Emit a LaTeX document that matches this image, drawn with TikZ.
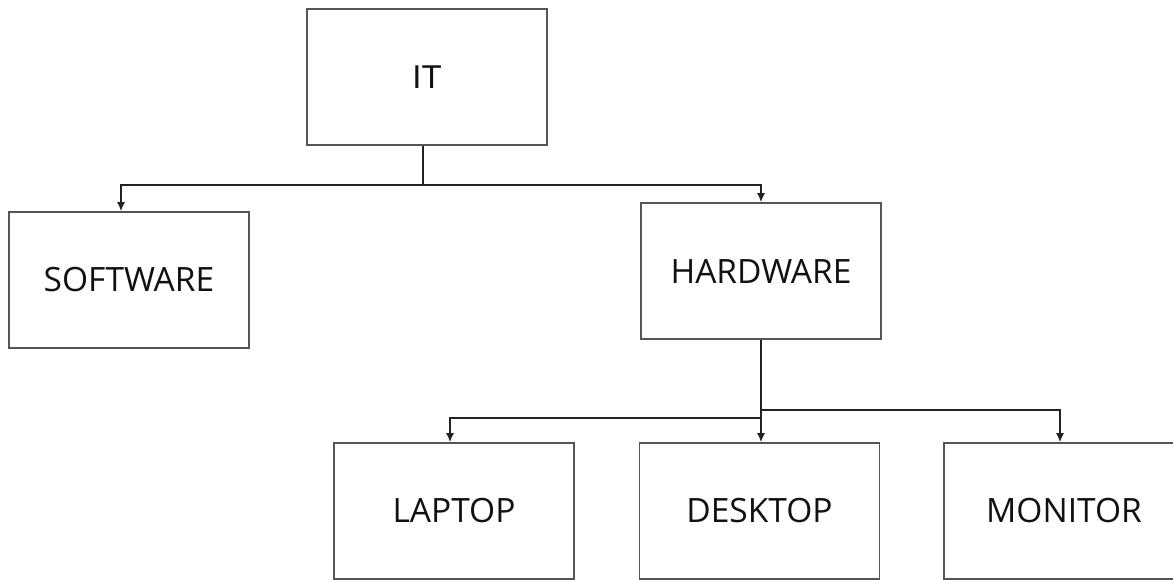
\documentclass[tikz,border=0pt]{standalone}
\usepackage{fontspec}
\setmainfont{Open Sans}
\newfontfamily\itfont{Liberation Sans}
\usetikzlibrary{arrows.meta}
\definecolor{boxgray}{HTML}{555555}
\definecolor{linegray}{HTML}{222222}
\definecolor{textgray}{HTML}{111111}
\begin{document}
\begin{tikzpicture}[x=1pt,y=-1pt,
  box/.style={draw=boxgray, line width=1.6pt, minimum width=240pt, minimum height=136pt,
    inner sep=0pt, text=textgray, font=\fontsize{33.5}{36}\selectfont},
  ln/.style={draw=linegray, line width=1.5pt},
  arr/.style={ln, -{Latex[length=9pt,width=8pt]}}]
\clip (0,0) rectangle (1173,580);
\fill[white] (0,0) rectangle (1173,580);
\node[box, font=\itfont\fontsize{33}{36}\selectfont] (it) at (427,77) {IT};
\node[box] (sw) at (129,280) {SOFTWARE};
\node[box] (hw) at (761,271) {HARDWARE};
\node[box] (lap) at (454,511) {LAPTOP};
\node[box] (desk) at (759.5,511) {DESKTOP};
\node[box] (mon) at (1064,511) {MONITOR};
\draw[ln] ([xshift=-4pt]it.south) -- ++(0,39) coordinate (j1);
\draw[arr] (j1) -| ([xshift=-8pt]sw.north);
\draw[arr] (j1) -| (hw.north);
\draw[arr] (hw.south) -- (hw.south |- desk.north);
\coordinate (j2) at ([yshift=-70pt]hw.south);
\coordinate (j3) at ([yshift=-78pt]hw.south);
\draw[arr] (j3) -| ([xshift=-4pt]lap.north);
\draw[arr] (j2) -| ([xshift=-4pt]mon.north);
\end{tikzpicture}
\end{document}
